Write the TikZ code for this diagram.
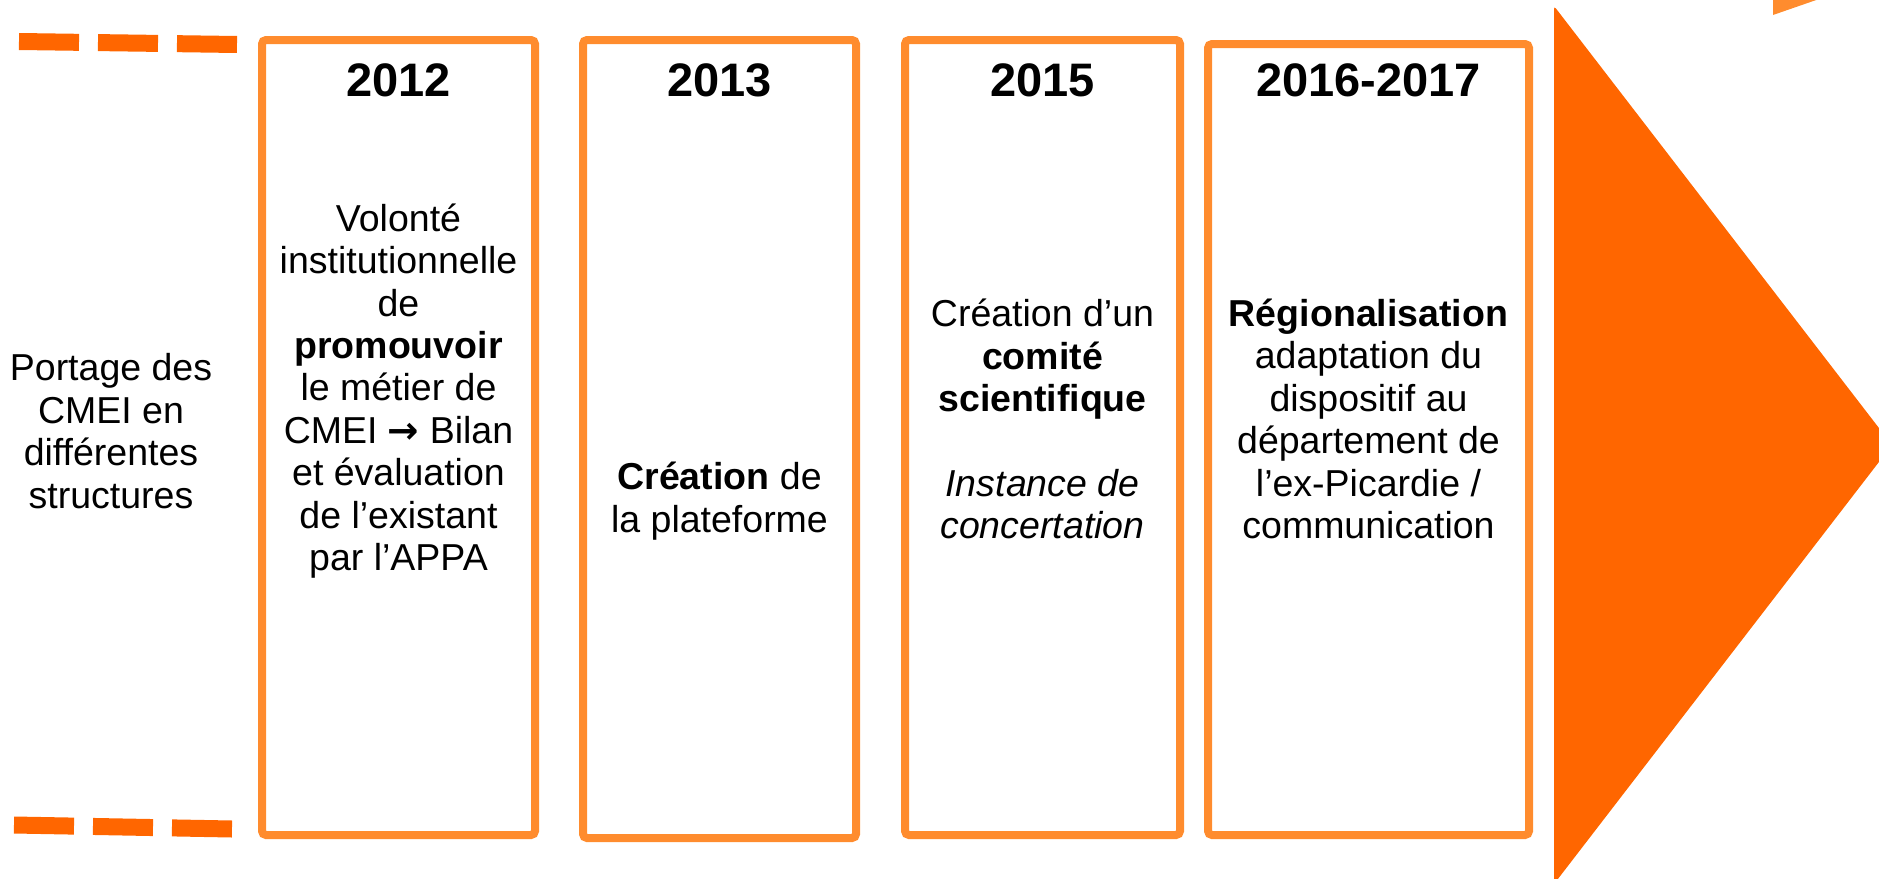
\documentclass[tikz,border=0pt]{standalone}
\usepackage{fontspec}
\setmainfont{Liberation Sans}
\newfontfamily\arrowfont{DejaVu Sans}
\usepackage{tikz}
\definecolor{darkorange}{HTML}{FF6600}
\definecolor{boxorange}{HTML}{FF8C2E}

\begin{document}
\begin{tikzpicture}[x=1pt,y=-1pt,
	yearbox/.style={draw=boxorange,line width=8pt,rounded corners=4pt,minimum width=273pt,minimum height=795pt,inner sep=0pt},
	yearlabel/.style={font=\fontsize{47}{56}\selectfont\bfseries,inner sep=0pt},
	boxtext/.style={align=center,font=\fontsize{37.5}{42.4}\selectfont,inner sep=0pt}]
	\useasboundingbox (0,0) rectangle (1879,878);
	\clip (0,0) rectangle (1879,878);
	\draw[darkorange,line width=17pt,dash pattern=on 60pt off 19pt] (19,41.5) -- (237,44.5);
	\draw[darkorange,line width=17pt,dash pattern=on 60pt off 19pt] (14,825) -- (232,829);
	\node[yearbox] (b2012) at (398.5,437.5) {};
	\node[yearbox,minimum height=798pt] (b2013) at (719.5,439) {};
	\node[yearbox,minimum width=275pt] (b2015) at (1042.5,437.5) {};
	\node[yearbox,minimum width=321pt,minimum height=791pt] (b2016) at (1368.5,439.5) {};
	\fill[darkorange,rounded corners=3pt] (1554,6) -- (1892,445) -- (1554,884) -- cycle;
	\fill[boxorange] (1773,-2) -- (1773,15) -- (1822,-2) -- cycle;
	\node[yearlabel] (y2012) at (398.5,80) {2012};
	\node[yearlabel] (y2013) at (719.5,80) {2013};
	\node[yearlabel] (y2015) at (1042.5,80) {2015};
	\node[yearlabel] (y2016) at (1368.5,80) {2016-2017};
	\node[boxtext] (portage) at (111,431) {Portage des\\CMEI en\\différentes\\structures};
	\node[boxtext] (t2012) at (398.5,391) {Volonté\\institutionnelle\\de\\\textbf{promouvoir}\\le métier de\\CMEI {\arrowfont\bfseries →} Bilan\\et évaluation\\de l’existant\\par l’APPA};
	\node[boxtext] (t2013) at (719.5,501) {\textbf{Création} de\\la plateforme};
	\node[boxtext] (t2015) at (1042.5,419) {Création d’un\\\textbf{comité}\\\textbf{scientifique}\\[42.4pt]\textit{Instance de}\\\textit{concertation}};
	\node[boxtext] (t2016) at (1368.5,419) {\textbf{Régionalisation}\\adaptation du\\dispositif au\\département de\\l’ex-Picardie /\\communication};
\end{tikzpicture}
\end{document}
